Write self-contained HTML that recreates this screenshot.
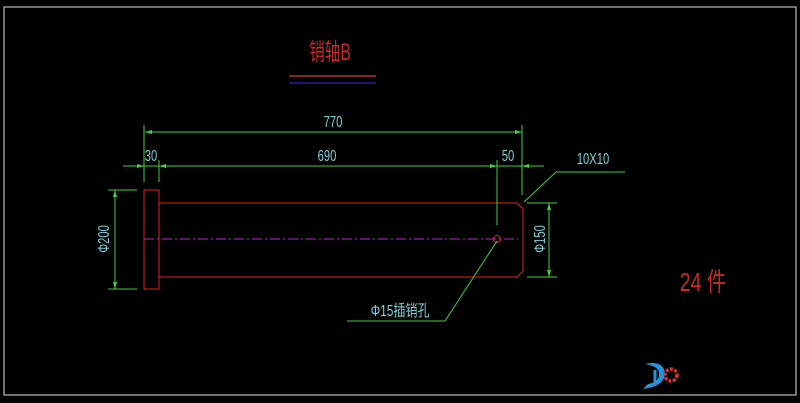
<!DOCTYPE html>
<html><head><meta charset="utf-8"><style>
html,body{margin:0;padding:0;background:#000;width:800px;height:403px;overflow:hidden}
svg{display:block}
text{font-family:"Liberation Sans","Noto Sans CJK SC",sans-serif}
</style></head><body>
<svg width="800" height="403" viewBox="0 0 800 403">
<rect x="4" y="7" width="792" height="388" fill="none" stroke="#bbb" stroke-width="1.2"/>
<text x="0" y="0" fill="#c62828" font-size="24" text-anchor="middle" transform="translate(330 60) scale(0.65 1)">销轴B</text>
<line x1="289" y1="76" x2="376" y2="76" stroke="#b03030" stroke-width="1.5"/>
<line x1="289" y1="83" x2="376" y2="83" stroke="#2020a0" stroke-width="1.5"/>
<g stroke="#e02020" fill="none" stroke-width="1">
<rect x="144" y="190" width="15" height="99"/>
<path d="M159 203 H517 L523 209 V271 L517 277 H159"/>
<circle cx="497" cy="239" r="3.5"/>
</g>
<line x1="144" y1="239" x2="518" y2="239" stroke="#b030c0" stroke-width="1" stroke-dasharray="10 3 2 3"/>
<g stroke="#40d040" fill="none" stroke-width="1">
<line x1="145" y1="132" x2="522" y2="132"/>
<line x1="144" y1="125" x2="144" y2="182"/>
<line x1="522" y1="125" x2="522" y2="195"/>
<line x1="123" y1="166" x2="544" y2="166"/>
<line x1="159" y1="160" x2="159" y2="182"/>
<line x1="497" y1="160" x2="497" y2="225"/>
<line x1="115" y1="190" x2="115" y2="289"/>
<line x1="108" y1="190" x2="137" y2="190"/>
<line x1="108" y1="289" x2="137" y2="289"/>
<line x1="549" y1="203" x2="549" y2="277"/>
<line x1="527" y1="203" x2="557" y2="203"/>
<line x1="527" y1="277" x2="557" y2="277"/>
<polyline points="524,202 556,172 625,172"/>
<polyline points="497,241 445,321 347,321"/>
</g>
<g fill="#40d040">
<path d="M145 132 l7 -2 v4z M522 132 l-7 -2 v4z"/>
<path d="M144 166 l-7 -2 v4z M159 166 l7 -2 v4z M497 166 l-7 -2 v4z M522 166 l7 -2 v4z"/>
<path d="M115 190 l-2 7 h4z M115 289 l-2 -7 h4z M549 203 l-2 7 h4z M549 277 l-2 -7 h4z"/>
</g>
<g fill="#7fd0d8" font-size="16" text-anchor="middle">
<text transform="translate(333 127) scale(0.7 1)">770</text>
<text transform="translate(151 161) scale(0.7 1)">30</text>
<text transform="translate(327 161) scale(0.7 1)">690</text>
<text transform="translate(508 161) scale(0.7 1)">50</text>
<text transform="translate(593 164) scale(0.7 1)">10X10</text>
<text transform="translate(400 316) scale(0.75 1)">Φ15插销孔</text>
<text transform="translate(109 239) rotate(-90) scale(0.7 1)">Φ200</text>
<text transform="translate(545 239) rotate(-90) scale(0.7 1)">Φ150</text>
</g>
<text transform="translate(703 291) scale(0.75 1)" fill="#c62828" font-size="26" text-anchor="middle">24 件</text>
<g>
<path d="M645 364 q18 -4 20 9 q0 13 -22 16 l5 -5 q12 -2 11 -11 q-1 -7 -14 -9z" fill="#2a90d8"/>
<path d="M655 370 v16" stroke="#2a90d8" stroke-width="3"/>
<circle cx="671" cy="375" r="6" fill="none" stroke="#e03030" stroke-width="3.5" stroke-dasharray="3 1.5"/>
</g>
</svg>
</body></html>
